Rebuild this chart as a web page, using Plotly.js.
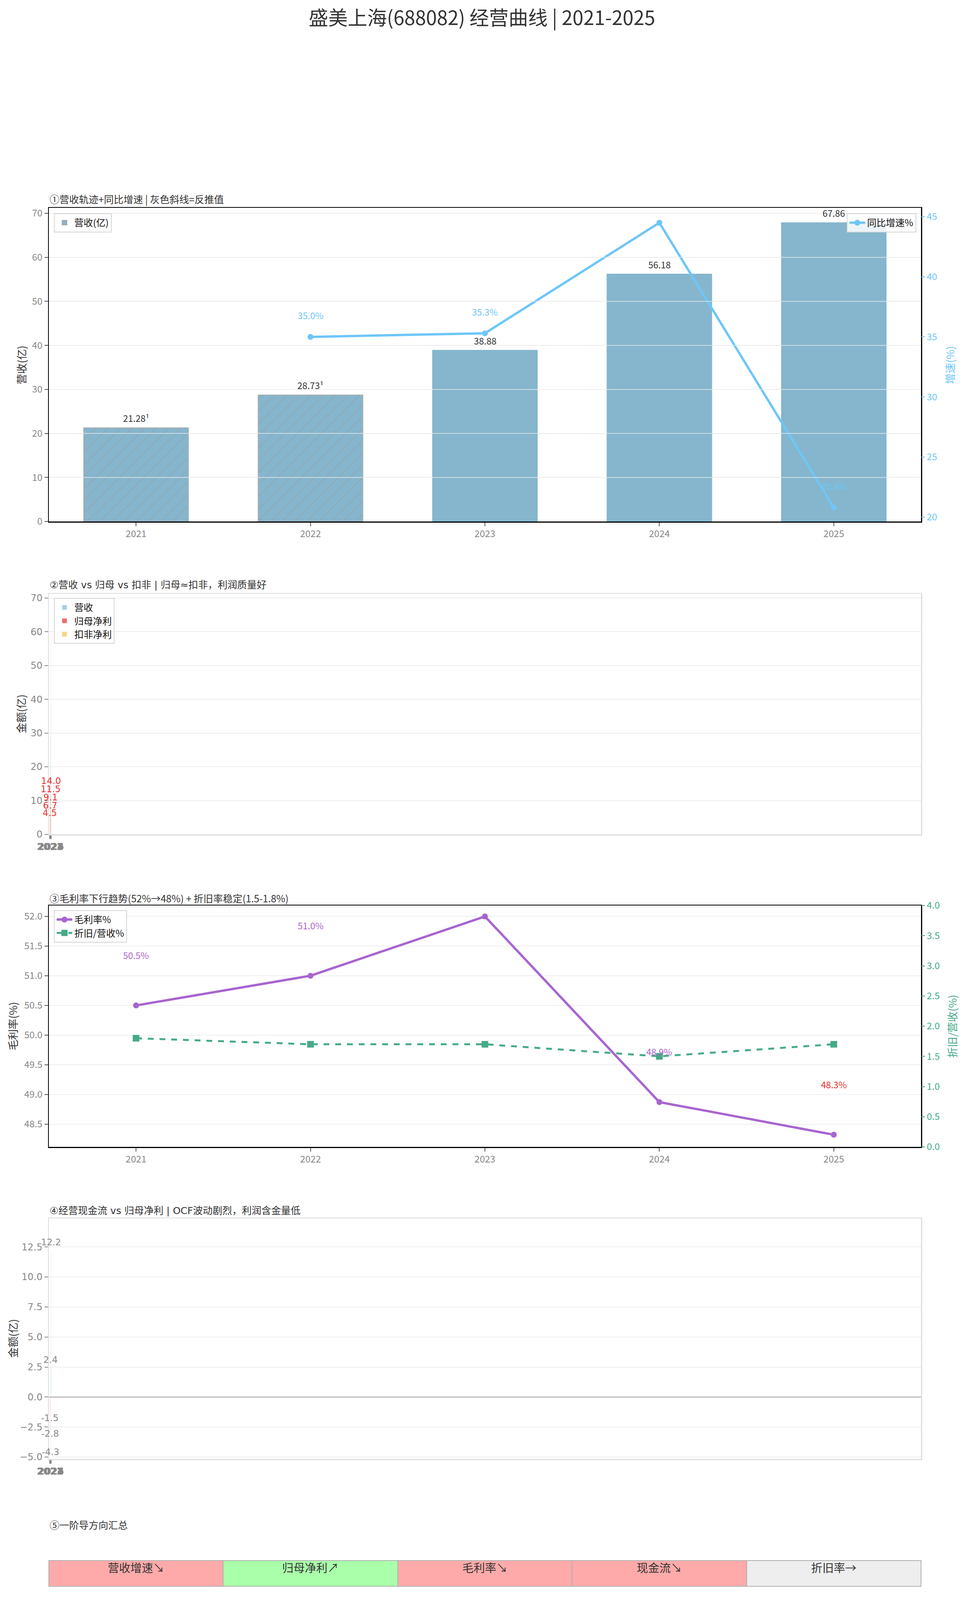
<!DOCTYPE html>
<html>
<head>
<meta charset="utf-8">
<script src="https://cdn.plot.ly/plotly-3.0.1.min.js"></script>
<style>
  html, body { margin: 0; padding: 0; background: #fff; }
  #chart { width: 2467px; height: 4154px; }
</style>
</head>
<body>
<div id="chart"></div>
<script>
// data
const years = ['2021', '2022', '2023', '2024', '2025'];
const revenue = [21.28, 28.73, 38.88, 56.18, 67.86];
const revEstimated = [true, true, false, false, false];
const growthYears = ['2022', '2023', '2024', '2025'];
const growth = [35.0, 35.3, 44.5, 20.8];
const netProfit = [4.5, 6.7, 9.1, 11.5, 14.0];
const deductProfit = [4.3, 6.5, 8.9, 11.3, 13.7];
const grossMargin = [50.5, 51.0, 52.0, 48.87, 48.32];
const deprRatio = [1.8, 1.7, 1.7, 1.5, 1.7];
const ocf = [-1.5, -2.8, -4.3, 2.4, 12.2];
const summaryLabels = ['营收增速↘', '归母净利↗', '毛利率↘', '现金流↘', '折旧率→'];
const summaryColors = ['#ffaaaa', '#aaffaa', '#ffaaaa', '#ffaaaa', '#eeeeee'];

const W = 2467, H = 4154;
const px = v => v / W;
const py = v => 1 - v / H;

const CJK = '"Noto Sans CJK SC", sans-serif';
const NARROW = '"Liberation Sans Narrow", "Noto Sans CJK SC", sans-serif';
const WIDE = '"DejaVu Sans", "Noto Sans CJK SC", sans-serif';

const blue = '#6ec6f8';
const barBlue = '#85b6cd';
const purple = '#a865cf';
const green = '#45aa88';

const xL = px(125), xR = px(2357);
const idx = years.map((_, i) => i);
const catIndex = y => years.indexOf(y);

let traces = [];

// ---- panel 1: revenue bars + growth line
traces.push({
  type: 'bar', x: years, y: revenue, xaxis: 'x', yaxis: 'y', width: 0.6,
  name: '营收(亿)', legend: 'legend',
  marker: {
    color: barBlue,
    pattern: {shape: revEstimated.map(e => e ? '/' : ''), fgcolor: '#98a2a8', bgcolor: barBlue,
      fillmode: 'overlay', size: 22, solidity: 0.14},
    line: {color: revEstimated.map(e => e ? '#aaaaaa' : barBlue), width: 2}
  }
});
traces.push({
  type: 'scatter', mode: 'lines+markers', x: growthYears, y: growth, xaxis: 'x', yaxis: 'y2',
  name: '同比增速%', legend: 'legend2',
  line: {color: blue, width: 6}, marker: {color: blue, size: 15}
});

// ---- panel 2: tiny bars squeezed at the left
traces.push({
  type: 'bar', x: idx, y: revenue, xaxis: 'x2', yaxis: 'y3', width: 0.25, offset: 0.0,
  name: '营收', legend: 'legend3', marker: {color: '#a8cfdf'}
});
traces.push({
  type: 'bar', x: idx, y: netProfit, xaxis: 'x2', yaxis: 'y3', width: 0.25, offset: -0.25,
  name: '归母净利', legend: 'legend3', marker: {color: '#e87272'}
});
traces.push({
  type: 'bar', x: idx, y: deductProfit, xaxis: 'x2', yaxis: 'y3', width: 0.25, offset: 0.25,
  name: '扣非净利', legend: 'legend3', marker: {color: '#f8d582'}
});

// ---- panel 3: gross margin + depreciation ratio
traces.push({
  type: 'scatter', mode: 'lines+markers', x: years, y: grossMargin, xaxis: 'x3', yaxis: 'y4',
  name: '毛利率%', legend: 'legend4',
  line: {color: purple, width: 6}, marker: {color: purple, size: 15}
});
traces.push({
  type: 'scatter', mode: 'lines+markers', x: years, y: deprRatio, xaxis: 'x3', yaxis: 'y5',
  name: '折旧/营收%', legend: 'legend4',
  line: {color: green, width: 5, dash: 'dash'}, marker: {color: green, size: 17, symbol: 'square'}
});

// ---- panel 4: operating cash flow
traces.push({
  type: 'bar', x: idx, y: ocf, xaxis: 'x4', yaxis: 'y6', width: 0.3,
  showlegend: false, marker: {color: ocf.map(v => v >= 0 ? '#6cc2a4' : '#f59a94')}
});

// ---- panel 5: summary table
traces.push({
  type: 'table',
  domain: {x: [xL, xR], y: [py(4064), py(3995)]},
  columnwidth: summaryLabels.map(() => 1),
  header: {
    values: summaryLabels,
    fill: {color: summaryColors},
    line: {color: '#b0b0b0', width: 2},
    align: 'center', height: 66,
    font: {family: CJK, size: 29, color: '#333'}
  },
  cells: {values: summaryLabels.map(() => []), height: 0}
});

let annotations = [];
// subplot titles
const sub = [
  ['①营收轨迹+同比增速 | 灰色斜线=反推值', 509, NARROW],
  ['②营收 vs 归母 vs 扣非 | 归母≈扣非，利润质量好', 1497, WIDE],
  ['③毛利率下行趋势(52%→48%) + 折旧率稳定(1.5-1.8%)', 2299, NARROW],
  ['④经营现金流 vs 归母净利 | OCF波动剧烈，利润含金量低', 3099, WIDE],
  ['⑤一阶导方向汇总', 3903, NARROW]
];
sub.forEach(s => annotations.push({
  text: s[0], xref: 'paper', yref: 'paper', x: xL, y: py(s[1]),
  xanchor: 'left', yanchor: 'middle', showarrow: false,
  font: {family: s[2], size: 25, color: '#333'}
}));
annotations.push({
  text: '盛美上海(688082) 经营曲线 | 2021-2025', xref: 'paper', yref: 'paper',
  x: 0.5, y: py(42), xanchor: 'center', yanchor: 'middle', showarrow: false,
  font: {family: NARROW, size: 50, color: '#333'}
});

// axis titles
const axt = [
  ['营收(亿)', 54, 935, '#333'],
  ['增速(%)', 2430, 935, blue],
  ['金额(亿)', 53, 1828, '#333'],
  ['毛利率(%)', 32, 2627, '#333'],
  ['折旧/营收(%)', 2436, 2627, green],
  ['金额(亿)', 32, 3427, '#333']
];
axt.forEach(a => annotations.push({
  text: a[0], xref: 'paper', yref: 'paper', x: px(a[1]), y: py(a[2]),
  xanchor: 'center', yanchor: 'middle', textangle: -90, showarrow: false,
  font: {family: NARROW, size: 27, color: a[3]}
}));

// value labels (category axes take the category index)
revenue.forEach((v, i) => annotations.push({
  text: v.toFixed(2) + (revEstimated[i] ? '¹' : ''), x: i, y: v + 2.2, xref: 'x', yref: 'y',
  showarrow: false, yanchor: 'middle', font: {family: NARROW, size: 23, color: '#333'}
}));
growth.forEach((v, i) => annotations.push({
  text: v.toFixed(1) + '%', x: catIndex(growthYears[i]), y: v + 1.8, xref: 'x', yref: 'y2',
  showarrow: false, yanchor: 'middle', font: {family: NARROW, size: 23, color: blue}
}));
netProfit.forEach((v, i) => annotations.push({
  text: v.toFixed(1), x: idx[i], y: v + 1.9, xref: 'x2', yref: 'y3',
  showarrow: false, yanchor: 'middle', font: {family: WIDE, size: 23, color: '#e83030'}
}));
grossMargin.forEach((v, i) => annotations.push({
  text: v.toFixed(1) + '%', x: i, y: v + 0.85, xref: 'x3', yref: 'y4',
  showarrow: false, yanchor: 'middle',
  font: {family: NARROW, size: 23, color: v < 48.5 ? '#e83030' : purple}
}));
ocf.forEach((v, i) => annotations.push({
  text: v.toFixed(1), x: idx[i], y: v >= 0 ? v + 0.7 : v - 0.26, xref: 'x4', yref: 'y6',
  showarrow: false, yanchor: 'middle', font: {family: WIDE, size: 23, color: '#888'}
}));

// gridlines drawn over the bars of panel 1
let shapes = [];
for (let g = 10; g < 70; g += 10) {
  shapes.push({type: 'line', xref: 'x domain', yref: 'y', x0: 0, x1: 1, y0: g, y1: g,
    layer: 'above', line: {color: 'rgba(236,236,236,0.75)', width: 2}});
}

const tickNarrow = {family: NARROW, size: 24, color: '#888'};
const tickWide = {family: WIDE, size: 24, color: '#888'};
const frame = {showline: true, mirror: true, linecolor: '#000', linewidth: 2.5};
const lightFrame = {showline: true, mirror: true, linecolor: '#dddddd', linewidth: 2.5};

const catX = Object.assign({
  type: 'category', range: [-0.5, 4.5], domain: [xL, xR], showgrid: false,
  ticks: 'outside', ticklen: 9, tickwidth: 2, tickcolor: '#555', tickfont: tickNarrow, zeroline: false
}, frame);
const squeezedX = Object.assign({
  type: 'linear', range: [-3.6, 3000], domain: [xL, xR], showgrid: false,
  tickvals: idx, ticktext: years, tickangle: 0, ticks: 'outside', ticklen: 9, tickwidth: 3, tickcolor: '#888',
  tickfont: Object.assign({}, tickWide, {weight: 'bold'}), zeroline: false
}, lightFrame);

const legendBase = {
  bgcolor: 'rgba(255,255,255,0.85)', bordercolor: '#d5d5d5', borderwidth: 2,
  font: {family: NARROW, size: 24, color: '#111'}, xanchor: 'left', yanchor: 'top',
  itemwidth: 40, tracegroupgap: 4
};

const layout = {
  width: W, height: H,
  margin: {l: 0, r: 0, t: 0, b: 0},
  paper_bgcolor: '#fff', plot_bgcolor: '#fff',
  barmode: 'overlay',
  showlegend: true,
  font: {family: CJK, color: '#333'},
  xaxis: Object.assign({}, catX, {anchor: 'y'}),
  yaxis: Object.assign({
    domain: [py(1335), py(532)], range: [0, 71.25], dtick: 10, anchor: 'x',
    gridcolor: '#eeeeee', gridwidth: 2, ticks: 'outside', ticklen: 9, tickwidth: 2, tickcolor: '#555',
    tickfont: tickNarrow, zeroline: false
  }, frame),
  yaxis2: {
    overlaying: 'y', side: 'right', anchor: 'x', range: [19.64, 45.74], dtick: 5,
    showgrid: false, zeroline: false, showline: false,
    ticks: 'outside', ticklen: 9, tickwidth: 2, tickcolor: blue,
    tickfont: {family: NARROW, size: 24, color: blue}
  },
  xaxis2: Object.assign({}, squeezedX, {anchor: 'y3'}),
  yaxis3: Object.assign({
    domain: [py(2136), py(1520)], range: [0, 71.25], dtick: 10, anchor: 'x2',
    gridcolor: '#eeeeee', gridwidth: 2, ticks: 'outside', ticklen: 9, tickwidth: 2, tickcolor: '#888',
    tickfont: tickWide, zeroline: false
  }, lightFrame),
  xaxis3: Object.assign({}, catX, {anchor: 'y4'}),
  yaxis4: Object.assign({
    domain: [py(2936), py(2318)], range: [48.115, 52.185], dtick: 0.5, tickformat: '.1f', anchor: 'x3',
    gridcolor: '#eeeeee', gridwidth: 2, ticks: 'outside', ticklen: 9, tickwidth: 2, tickcolor: '#555',
    tickfont: tickNarrow, zeroline: false
  }, frame),
  yaxis5: {
    overlaying: 'y4', side: 'right', anchor: 'x3', range: [0, 4], dtick: 0.5, tickformat: '.1f',
    showgrid: false, zeroline: false, showline: false,
    ticks: 'outside', ticklen: 9, tickwidth: 2, tickcolor: green,
    tickfont: {family: NARROW, size: 24, color: green}
  },
  xaxis4: Object.assign({}, squeezedX, {anchor: 'y6'}),
  yaxis6: Object.assign({
    domain: [py(3735), py(3119)], range: [-5.16, 14.88], dtick: 2.5, tickformat: '.1f', anchor: 'x4',
    gridcolor: '#eeeeee', gridwidth: 2, ticks: 'outside', ticklen: 9, tickwidth: 2, tickcolor: '#888',
    tickfont: tickWide, zeroline: true, zerolinecolor: '#bbbbbb', zerolinewidth: 2.5
  }, lightFrame),
  legend: Object.assign({}, legendBase, {x: px(138), y: py(546)}),
  legend2: Object.assign({}, legendBase, {x: px(2345), y: py(546), xanchor: 'right'}),
  legend3: Object.assign({}, legendBase, {x: px(138), y: py(1531)}),
  legend4: Object.assign({}, legendBase, {x: px(138), y: py(2330)}),
  annotations: annotations,
  shapes: shapes
};

Plotly.newPlot('chart', traces, layout, {staticPlot: true});
</script>
</body>
</html>
